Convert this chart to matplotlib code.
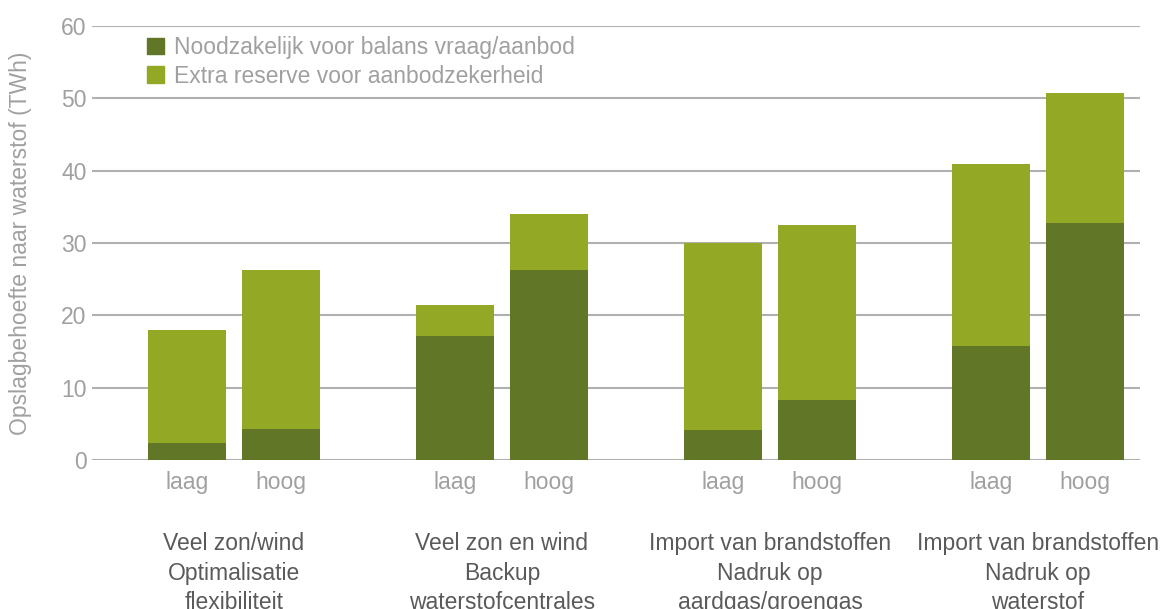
import matplotlib
matplotlib.use('Agg')
import matplotlib.pyplot as plt
import matplotlib.transforms as mtransforms
from matplotlib.patches import Patch
import numpy as np

plt.rcParams['font.family'] = ['Liberation Sans', 'DejaVu Sans']

# Data
groups = [
    'Veel zon/wind\nOptimalisatie\nflexibiliteit',
    'Veel zon en wind\nBackup\nwaterstofcentrales',
    'Import van brandstoffen\nNadruk op\naardgas/groengas',
    'Import van brandstoffen\nNadruk op\nwaterstof',
]
variants = ['laag', 'hoog']
series_names = ['Noodzakelijk voor balans vraag/aanbod',
                'Extra reserve voor aanbodzekerheid']
# per bar (laag, hoog per group)
necessary = [2.3, 4.3, 17.2, 26.3, 4.2, 8.3, 15.8, 32.8]
total = [18.0, 26.3, 21.4, 34.0, 30.0, 32.5, 40.9, 50.8]
yticks = [0, 10, 20, 30, 40, 50, 60]

DARK = '#627628'
LIGHT = '#93a824'
GRID = '#b0b0b0'
TICK = '#a0a0a0'
LABEL = '#5a5a5a'
FS = 16.5

necessary = np.array(necessary)
extra = np.array(total) - necessary

# Bar positions: groups spaced 1 unit apart, two bars per group
offset = 0.1754
width = 0.291
gx = np.arange(len(groups))
x = np.ravel([[g - offset, g + offset] for g in gx])

fig = plt.figure(figsize=(11.64, 6.09), dpi=100)
ax = fig.add_axes([92 / 1164, 1 - 460 / 609, (1140 - 92) / 1164, 434 / 609])

ax.bar(x, necessary, width=width, color=DARK, zorder=3)
ax.bar(x, extra, width=width, bottom=necessary, color=LIGHT, zorder=3)

ax.set_xlim(-0.530, 3.381)
ax.set_ylim(0, 60)
ax.set_yticks(yticks)
ax.set_yticklabels([str(v) for v in yticks])
ax.yaxis.grid(True, color=GRID, linewidth=1.5)
ax.set_axisbelow(True)
for s in ax.spines.values():
    s.set_visible(False)

ax.set_xticks(x)
ax.set_xticklabels(variants * len(groups))
ax.tick_params(axis='x', length=0, pad=8, labelsize=FS, labelcolor=TICK)
ax.tick_params(axis='y', length=0, pad=4, labelsize=FS, labelcolor=TICK)

ax.set_ylabel('Opslagbehoefte naar waterstof (TWh)', fontsize=FS, color=TICK)
ax.yaxis.set_label_coords(-0.057, 0.5)

# Group labels under the variant labels (bottom line runs off the canvas,
# as in the original)
trans = mtransforms.blended_transform_factory(ax.transData, ax.transAxes)
for g, name in zip(gx, groups):
    ax.text(g, -0.166, name, transform=trans, ha='center', va='top',
            fontsize=FS, color=LABEL, linespacing=1.36, clip_on=False)

handles = [Patch(color=DARK), Patch(color=LIGHT)]
fig.legend(handles, series_names, loc='upper left',
           bbox_to_anchor=(147 / 1164, 1 - 36 / 609), frameon=False,
           fontsize=FS, labelcolor=TICK, borderpad=0, borderaxespad=0,
           handlelength=0.75, handleheight=0.75, handletextpad=0.45,
           labelspacing=0.25)

fig.savefig('out.png', dpi=100, facecolor='white')
